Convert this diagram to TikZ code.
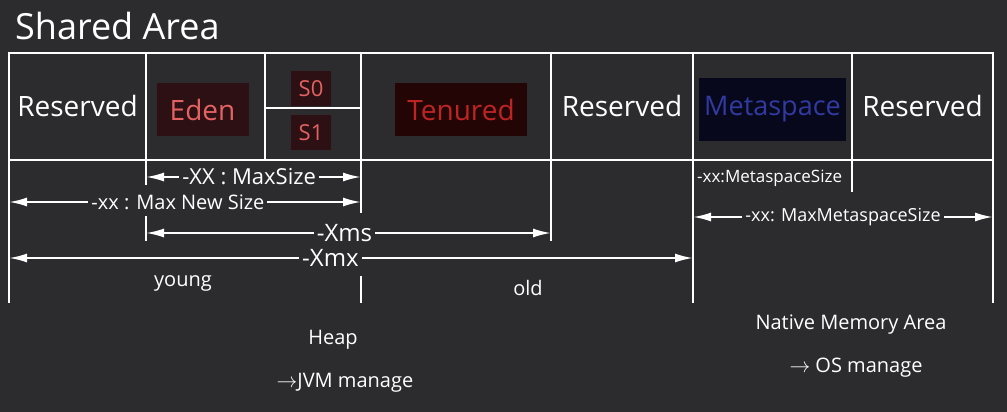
\documentclass[tikz,border=0pt]{standalone}
\usepackage{fontspec}
\setmainfont{Open Sans}
\usepackage{tikz}
\usetikzlibrary{positioning, calc, arrows.meta}

\definecolor{bgdark}{RGB}{44,44,47}
\definecolor{edenfg}{RGB}{228,98,98}
\definecolor{edenbg}{RGB}{45,16,20}
\definecolor{tenfg}{RGB}{190,36,36}
\definecolor{tenbg}{RGB}{36,5,5}
\definecolor{metafg}{RGB}{48,58,160}
\definecolor{metabg}{RGB}{8,8,28}

\tikzset{cell/.style={draw=white, line width=2.5pt, outer sep=0pt, inner sep=0pt, minimum height=107pt, text=white, font=\fontsize{28}{30}\selectfont}}
\tikzset{tag/.style={inner sep=0pt, font=\fontsize{28}{30}\selectfont}}
\tikzset{wall/.style={draw=white, line width=2.5pt}}
\tikzset{span/.style={white, line width=2pt, <->, >={Latex[length=18pt,width=9pt]}}}
\tikzset{flag/.style={fill=bgdark, text=white, inner sep=3pt, font=\fontsize{20}{22}\selectfont}}
\tikzset{note/.style={text=white, inner sep=0pt, font=\fontsize{20}{22}\selectfont}}

\begin{document}
\begin{tikzpicture}[x=1pt, y=-1pt]

      % BACKGROUND AND TITLE

      \fill[bgdark] (0,0) rectangle (1007,412);
      \node[note, anchor=base west, font=\fontsize{36}{38}\selectfont] (title) at (15,40) {Shared Area};

      % CELLS

      \node[cell, anchor=north west, minimum width=137pt] (res1) at (9,53) {Reserved};
      \node[cell, right=0pt of res1, minimum width=119pt] (eden) {};
      \node[cell, anchor=north west, minimum width=96pt, minimum height=55pt] (s0) at (eden.north east) {};
      \node[cell, below=0pt of s0, minimum width=96pt, minimum height=52pt] (s1) {};
      \node[cell, anchor=north west, minimum width=190pt] (tenured) at (s0.north east) {};
      \node[cell, right=0pt of tenured, minimum width=142pt] (res2) {Reserved};
      \node[cell, right=0pt of res2, minimum width=159pt] (meta) {};
      \node[cell, right=0pt of meta, minimum width=141pt] (res3) {Reserved};

      % LABELS

      \node[tag, fill=edenbg, text=edenfg, minimum width=92pt, minimum height=53pt] (edenLabel) at ($(eden)+(-3,3)$) {Eden};
      \node[tag, fill=edenbg, text=edenfg, minimum width=40pt, minimum height=35pt, font=\fontsize{22}{24}\selectfont] (s0Label) at ($(s0)+(-2,8)$) {S0};
      \node[tag, fill=edenbg, text=edenfg, minimum width=40pt, minimum height=35pt, font=\fontsize{22}{24}\selectfont] (s1Label) at ($(s1)+(-2,-1.5)$) {S1};
      \node[tag, fill=tenbg, text=tenfg, minimum width=132pt, minimum height=53pt] (tenLabel) at ($(tenured)+(5,3)$) {Tenured};
      \node[tag, fill=metabg, text=metafg, minimum width=147pt, minimum height=62pt, font=\fontsize{27}{29}\selectfont] (metaLabel) at ($(meta)+(0,3)$) {Metaspace};

      % WALLS BELOW THE TABLE

      \draw[wall] (res1.south west) -- ++(0,143);
      \draw[wall] (eden.south west) -- ++(0,25);
      \draw[wall] ($(eden.south west)+(0,56)$) -- ++(0,25);
      \draw[wall] (tenured.south west) -- ++(0,53);
      \draw[wall] ($(tenured.south west)+(0,116)$) -- ++(0,27);
      \draw[wall] (res2.south west) -- ++(0,81);
      \draw[wall] (meta.south west) -- ++(0,143);
      \draw[wall] (res3.south west) -- ++(0,32);
      \draw[wall] (res3.south east) -- ++(0,143);

      % ARROWS

      \coordinate (maxL) at ($(eden.south west)+(0,17)$);
      \coordinate (maxR) at ($(tenured.south west)+(0,17)$);
      \draw[span] (maxL) -- node[flag, pos=0.48, font=\fontsize{22}{24}\selectfont] {-XX : MaxSize} (maxR);

      \coordinate (newL) at ($(res1.south west)+(0,42)$);
      \coordinate (newR) at ($(tenured.south west)+(0,42)$);
      \draw[span] (newL) -- node[flag, pos=0.48] {-xx : Max New Size} (newR);

      \coordinate (msL) at ($(eden.south west)+(0,73)$);
      \coordinate (msR) at ($(res2.south west)+(0,73)$);
      \draw[span] (msL) -- node[flag, pos=0.49, font=\fontsize{24}{26}\selectfont] {-Xms} (msR);

      \coordinate (mxL) at ($(res1.south west)+(0,98)$);
      \coordinate (mxR) at ($(meta.south west)+(0,98)$);
      \draw[span] (mxL) -- node[flag, pos=0.47, font=\fontsize{24}{26}\selectfont] {-Xmx} (mxR);

      \coordinate (mmL) at ($(meta.south west)+(0,57)$);
      \coordinate (mmR) at ($(res3.south east)+(0,57)$);
      \draw[span] (mmL) -- node[flag, font=\fontsize{18}{20}\selectfont] {-xx: MaxMetaspaceSize} (mmR);

      \node[note, anchor=west, font=\fontsize{17}{19}\selectfont] (msizeLabel) at ($(meta.south west)+(4,18)$) {-xx:MetaspaceSize};

      % AREA NAMES

      \node[note] (youngLabel) at ($(res1.south west)+(174,123)$) {young};
      \node[note] (oldLabel) at ($(res2.south west)+(-23,128)$) {old};
      \node[note] (heapLabel) at ($(tenured.south west)+(-28,180)$) {Heap};
      \node[note] (jvmLabel) at ($(heapLabel)+(12,43)$) {$\rightarrow$JVM manage};
      \node[note] (nativeLabel) at ($(meta.south east)+(-1,165)$) {Native Memory Area};
      \node[note] (osLabel) at ($(nativeLabel)+(5,43)$) {$\rightarrow$ OS manage};

    \end{tikzpicture}
\end{document}
